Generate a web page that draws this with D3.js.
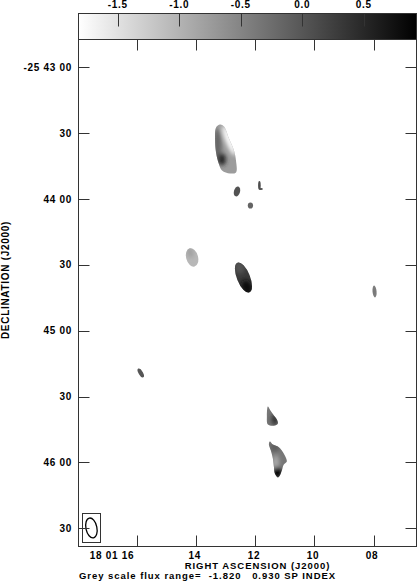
<!DOCTYPE html>
<html><head><meta charset="utf-8">
<script src="https://cdn.jsdelivr.net/npm/d3@7"></script>
<style>
html,body{margin:0;padding:0;background:#fff;}
svg{display:block;}
text{font-family:"Liberation Sans",Arial,Helvetica,sans-serif;font-weight:bold;font-size:10px;letter-spacing:0.7px;fill:#000;white-space:pre;}
text.small{font-size:9.5px;letter-spacing:0.95px;}
</style></head><body>
<svg id="c" width="418" height="585"></svg>
<script>
// ---------------- data ----------------
// RA in seconds of time after 18h01m; Dec in arcsec south of -25°43'00"
const raTicks = [16, 14, 12, 10, 8];
const raTickLabels = ["18 01 16", "14", "12", "10", "08"];
const decTicks = [0, 30, 60, 90, 120, 150, 180, 210];
const decTickLabels = ["-25 43 00", "30", "44 00", "30", "45 00", "30", "46 00", "30"];
const cbTicks = [-1.5, -1.0, -0.5, 0.0, 0.5];
const cbTickLabels = ["-1.5", "-1.0", "-0.5", "0.0", "0.5"];
const fluxRange = [-1.820, 0.930];
const raDomain = [17.99, 6.546];
const decDomain = [-12.76, 218.3];

// source outlines (polygons, [RA s, Dec "])
const outlineA = [[13.333,27.34],[13.198,25.98],[13.063,26.89],[12.895,32.35],[12.726,37.82],[12.658,42.38],[12.658,47.85],[12.861,48.30],[13.131,46.94],[13.232,44.20],[13.333,38.73],[13.367,32.35]];
const outlineD = [[11.578,154.48],[11.511,155.85],[11.375,158.59],[11.274,160.41],[11.240,162.23],[11.342,163.14],[11.578,162.69],[11.612,159.04]];
const outlineE = [[11.511,170.43],[11.409,171.80],[11.240,172.71],[11.105,174.54],[11.004,176.82],[10.937,179.55],[11.038,180.92],[11.105,183.65],[11.173,185.93],[11.240,186.84],[11.342,185.02],[11.375,181.83],[11.409,178.18],[11.477,174.54],[11.544,171.80]];
// elliptical outlines: [RA, Dec, semi-major ", semi-minor ", PA deg]
const ellB = [14.143, 86.58, 4.3, 2.7, -15];
const ellC = [12.405, 95.70, 7.3, 3.0, -22];
const ellF = [12.624, 56.51, 2.3, 1.4, 15];
const ellG1 = [11.865, 53.77, 2.0, 0.6, 0];
const ellG2 = [11.814, 55.37, 0.5, 0.9, 0];
const ellH = [12.169, 62.89, 1.4, 1.2, 0];
const ellI = [7.966, 102.08, 2.7, 0.9, -5];
const ellJ = [15.882, 139.22, 2.3, 1.0, -30];
// spectral-index components inside each source: [RA, Dec, a ", b ", PA, index]
const compsA = [[13.283,36.0,8.2,1.8,0,-0.15],[12.894,33.27,7.3,1.6,-22,-1.8],[13.131,41.92,2.7,1.8,0,0.5]];
const compsB = [[14.211,84.3,2.5,1.5,-15,-0.8]];
const compsC = [[12.540,91.14,3.0,2.5,-22,0.05],[12.287,100.26,3.5,2.5,-22,0.75]];
const compsD = [[11.342,160.41,2.5,1.5,0,0.45]];
const compsE = [[11.308,180.0,3.5,1.5,0,-0.9],[11.257,184.56,2.5,2.0,0,0.9],[11.342,173.17,2.0,2.0,0,-0.05]];
const compsI = [[7.99,102.08,2.5,0.5,-5,-0.1]];
// base spectral index per source
const baseIndex = {A:-0.75, B:-1.05, C:0.3, D:-0.35, E:-0.35, F:0.05, G1:0.1, G2:0.1, H:-0.15, I:-0.5, J:0.0};
// restoring beam: [RA, Dec, semi-major ", semi-minor ", PA]
const beam = [17.553, 209.85, 4.6, 2.5, -12];

// ---------------- layout ----------------
const L = 78.5, R = 416.5, T = 39.5, B = 546.5;
const cbTop = 13.5;
const svg = d3.select("#c");
const x = d3.scaleLinear().domain(raDomain).range([L, R]);
const y = d3.scaleLinear().domain(decDomain).range([T, B]);
const pxPerArcsec = Math.abs(y(1) - y(0));
const grey = d3.scaleLinear().domain(fluxRange).range(["#ffffff", "#000000"]).clamp(true);
const cbx = d3.scaleLinear().domain(fluxRange).range([L, R]);

const defs = svg.append("defs");
const grad = defs.append("linearGradient").attr("id", "cbgrad");
grad.append("stop").attr("offset", "0%").attr("stop-color", grey(fluxRange[0]));
grad.append("stop").attr("offset", "100%").attr("stop-color", grey(fluxRange[1]));
defs.append("filter").attr("id", "soft").attr("x", "-100%").attr("y", "-100%").attr("width", "300%").attr("height", "300%")
  .append("feGaussianBlur").attr("stdDeviation", 2.2);

// ---------------- sources ----------------
const line = d3.line().x(d => x(d[0])).y(d => y(d[1])).curve(d3.curveCatmullRomClosed.alpha(0.5));
function ellipsePath(e) {
  const [ra, dec, a, b, pa] = e;
  const cx = x(ra), cy = y(dec), ry = a * pxPerArcsec, rx = b * pxPerArcsec;
  return {cx, cy, rx, ry, pa};
}
const sources = [
  {id:"A", poly:outlineA, comps:compsA},
  {id:"B", ell:ellB, comps:compsB},
  {id:"C", ell:ellC, comps:compsC},
  {id:"D", poly:outlineD, comps:compsD},
  {id:"E", poly:outlineE, comps:compsE},
  {id:"F", ell:ellF, comps:[]},
  {id:"G1", ell:ellG1, comps:[]},
  {id:"G2", ell:ellG2, comps:[]},
  {id:"H", ell:ellH, comps:[]},
  {id:"I", ell:ellI, comps:compsI},
  {id:"J", ell:ellJ, comps:[]}
];
const img = svg.append("g");
sources.forEach(s => {
  const cp = defs.append("clipPath").attr("id", "clip" + s.id);
  if (s.poly) {
    cp.append("path").attr("d", line(s.poly));
  } else {
    const e = ellipsePath(s.ell);
    cp.append("ellipse").attr("cx", 0).attr("cy", 0).attr("rx", e.rx).attr("ry", e.ry)
      .attr("transform", `translate(${e.cx},${e.cy}) rotate(${e.pa})`);
  }
  const g = img.append("g").attr("clip-path", `url(#clip${s.id})`);
  g.append("rect").attr("x", L).attr("y", T).attr("width", R - L).attr("height", B - T)
    .attr("fill", grey(baseIndex[s.id]));
  const cg = g.append("g").attr("filter", "url(#soft)");
  s.comps.forEach(c => {
    const e = ellipsePath(c);
    cg.append("ellipse").attr("cx", 0).attr("cy", 0).attr("rx", e.rx).attr("ry", e.ry)
      .attr("transform", `translate(${e.cx},${e.cy}) rotate(${e.pa})`)
      .attr("fill", grey(c[5]));
  });
});

// ---------------- beam ----------------
{
  const e = ellipsePath(beam);
  svg.append("rect").attr("x", Math.round(e.cx - 9) + 0.5).attr("y", Math.round(e.cy - 15) + 0.5)
    .attr("width", 18).attr("height", 29).attr("fill", "none").attr("stroke", "#333").attr("stroke-width", 1);
  svg.append("ellipse").attr("cx", 0).attr("cy", 0).attr("rx", e.rx).attr("ry", e.ry)
    .attr("transform", `translate(${e.cx},${e.cy}) rotate(${e.pa})`)
    .attr("fill", "none").attr("stroke", "#000").attr("stroke-width", 1.3);
}

// ---------------- frame & ticks ----------------
const stroke = "#333";
svg.append("rect").attr("x", L).attr("y", T).attr("width", R - L).attr("height", B - T)
  .attr("fill", "none").attr("stroke", stroke).attr("stroke-width", 1);
const tl = 11;
raTicks.forEach(v => {
  const px = Math.round(x(v)) + 0.5;
  svg.append("line").attr("x1", px).attr("x2", px).attr("y1", T).attr("y2", T + tl).attr("stroke", stroke);
  svg.append("line").attr("x1", px).attr("x2", px).attr("y1", B).attr("y2", B - tl).attr("stroke", stroke);
});
decTicks.forEach(v => {
  const py = Math.round(y(v)) + 0.5;
  svg.append("line").attr("x1", L).attr("x2", L + tl).attr("y1", py).attr("y2", py).attr("stroke", stroke);
  svg.append("line").attr("x1", R).attr("x2", R - tl).attr("y1", py).attr("y2", py).attr("stroke", stroke);
});
raTicks.forEach((v, i) => {
  svg.append("text").attr("x", i === 0 ? x(v) - 3 : x(v) - 1.5).attr("y", 559)
    .attr("text-anchor", i === 0 ? "end" : "middle").text(raTickLabels[i]);
});
decTicks.forEach((v, i) => {
  svg.append("text").attr("x", 72).attr("y", y(v) + 3.5).attr("text-anchor", "end").text(decTickLabels[i]);
});

// ---------------- colour bar ----------------
svg.append("rect").attr("x", L).attr("y", cbTop).attr("width", R - L).attr("height", T - cbTop)
  .attr("fill", "url(#cbgrad)").attr("stroke", stroke).attr("stroke-width", 1);
cbTicks.forEach((v, i) => {
  const px = Math.round(cbx(v)) + 0.5;
  svg.append("line").attr("x1", px).attr("x2", px).attr("y1", cbTop).attr("y2", cbTop + 13).attr("stroke", stroke);
  svg.append("text").attr("x", cbx(v)).attr("y", 8).attr("text-anchor", "middle").text(cbTickLabels[i]);
});

// ---------------- titles ----------------
svg.append("text").attr("class", "small").attr("x", 257.5).attr("y", 568.6).attr("text-anchor", "middle").text("RIGHT ASCENSION (J2000)");
svg.append("text").attr("class", "small").attr("x", 79).attr("y", 579.3)
  .text(`Grey scale flux range=  ${fluxRange[0].toFixed(3)}   ${fluxRange[1].toFixed(3)} SP INDEX`);
svg.append("text").attr("transform", "translate(8.5,280) rotate(-90)").attr("text-anchor", "middle").text("DECLINATION (J2000)");
</script>
</body></html>
